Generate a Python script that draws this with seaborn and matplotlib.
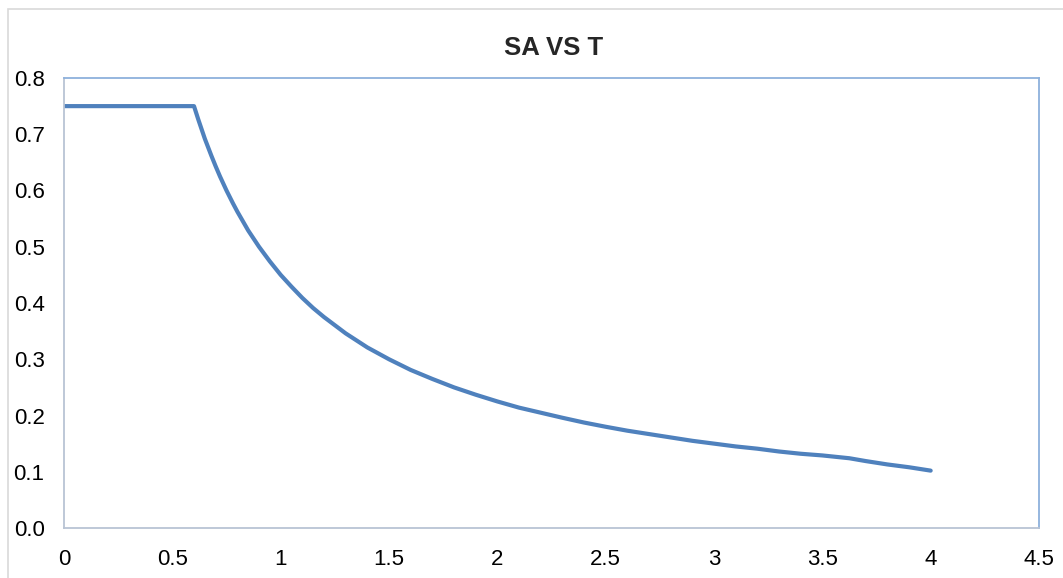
import pandas as pd
import seaborn as sns
from matplotlib import pyplot as plt
from matplotlib.patches import Rectangle

# values
period = [0.0, 0.6, 0.62, 0.65, 0.68, 0.7, 0.72, 0.75, 0.78, 0.8, 0.85, 0.9,
          0.95, 1.0, 1.05, 1.1, 1.15, 1.2, 1.3, 1.4, 1.5, 1.6, 1.7, 1.8, 1.9,
          2.0, 2.1, 2.2, 2.3, 2.4, 2.5, 2.6, 2.7, 2.8, 2.9, 3.0, 3.1, 3.2,
          3.3, 3.4, 3.5, 3.625, 3.7, 3.8, 3.9, 4.0]
sa = [0.75, 0.75, 0.726, 0.692, 0.662, 0.643, 0.625, 0.600, 0.577, 0.5625,
      0.529, 0.500, 0.474, 0.450, 0.429, 0.409, 0.391, 0.375, 0.346, 0.321,
      0.300, 0.281, 0.265, 0.250, 0.237, 0.225, 0.214, 0.205, 0.196, 0.1875,
      0.180, 0.173, 0.167, 0.161, 0.155, 0.150, 0.145, 0.141, 0.136, 0.132,
      0.129, 0.124, 0.119, 0.113, 0.108, 0.102]

xticks = [0, 0.5, 1, 1.5, 2, 2.5, 3, 3.5, 4, 4.5]
xtick_labels = ['0', '0.5', '1', '1.5', '2', '2.5', '3', '3.5', '4', '4.5']
yticks = [0.0, 0.1, 0.2, 0.3, 0.4, 0.5, 0.6, 0.7, 0.8]

df = pd.DataFrame({'T': period, 'SA': sa})

sns.set_style('white')
plt.rcParams['font.family'] = ['Liberation Sans', 'DejaVu Sans']

fig = plt.figure(figsize=(10.63, 5.78), dpi=100)
ax = fig.add_axes([64 / 1063, 50 / 578, 975 / 1063, 450 / 578])

sns.lineplot(data=df, x='T', y='SA', ax=ax, color='#4F81BD', linewidth=3.0,
             solid_capstyle='round', solid_joinstyle='round')

ax.set_xlim(0, 4.5)
ax.set_ylim(0, 0.8)
ax.set_xticks(xticks)
ax.set_xticklabels(xtick_labels)
ax.set_yticks(yticks)
ax.set_yticklabels([f'{v:.1f}' for v in yticks])
ax.tick_params(axis='both', length=0, labelsize=16, colors='black')
ax.tick_params(axis='y', pad=14)
ax.tick_params(axis='x', pad=15)
ax.set_xlabel('')
ax.set_ylabel('')

for side in ['left', 'bottom']:
    ax.spines[side].set_color('#B9C4D4')
    ax.spines[side].set_linewidth(1.3)
for side in ['top', 'right']:
    ax.spines[side].set_color('#8EB1DC')
    ax.spines[side].set_linewidth(1.3)

fig.text(554 / 1063, 1 - 48 / 578, 'SA VS T', ha='center', va='center',
         fontsize=18.5, fontweight='bold')

# outer chart frame (cut off at right and bottom in the reference)
fig.patches.append(Rectangle((8 / 1063, -0.05), 1.1, 1 - 9 / 578 + 0.05,
                             transform=fig.transFigure, fill=False,
                             edgecolor='#D9D9D9', linewidth=1.2))

fig.savefig('out.png', dpi=100)
